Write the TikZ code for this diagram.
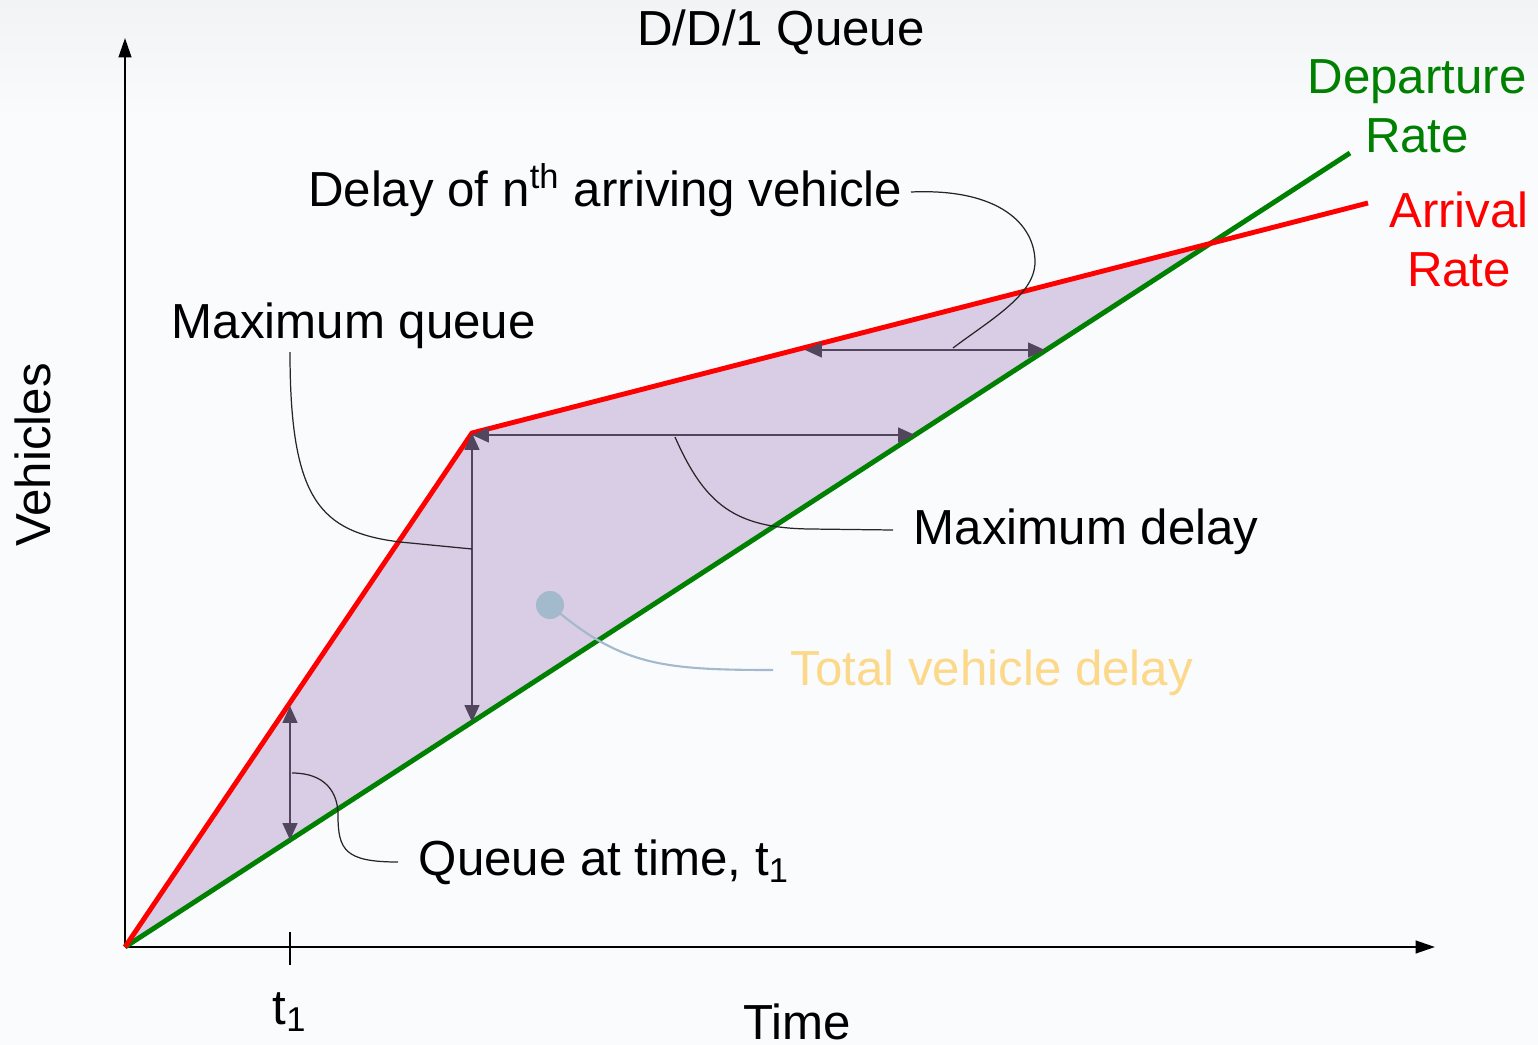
\documentclass[tikz,border=0pt]{standalone}
\usepackage{fontspec}
\setmainfont{Liberation Sans}
\usetikzlibrary{arrows.meta}
\definecolor{bgc}{HTML}{FAFBFD}
\definecolor{bgtop}{HTML}{F2F3F5}
\definecolor{fillc}{HTML}{D9CCE5}
\definecolor{arrc}{HTML}{52465F}
\definecolor{redc}{HTML}{FF0000}
\definecolor{greenc}{HTML}{008000}
\definecolor{yellowc}{HTML}{FCD98A}
\definecolor{bluec}{HTML}{A3B9CC}
\tikzset{
  lbl/.style={font=\fontsize{14}{16.8}\selectfont, inner sep=0pt},
  axisline/.style={line width=0.6pt, black, -{Triangle[length=5.5pt,width=3.6pt]}},
  ratered/.style={line width=1.4pt, redc, line join=round},
  rategreen/.style={line width=1.4pt, greenc},
  dimarrow/.style={line width=0.55pt, arrc, {Triangle[length=4.8pt,width=4.2pt]}-{Triangle[length=4.8pt,width=4.2pt]}},
  leader/.style={line width=0.35pt, black!85},
}
\begin{document}
\begin{tikzpicture}[x=0.01cm,y=-0.01cm]
\useasboundingbox (0,0) rectangle (1538,1045);
\fill[bgc] (0,0) rectangle (1538,1045);
\shade[top color=bgtop, bottom color=bgc] (0,0) rectangle (1538,120);

% key points
\coordinate (O) at (125,947);
\coordinate (K) at (472,433);
\coordinate (X) at (1210,244);
\coordinate (Rend) at (1368,203);
\coordinate (Gend) at (1350,153);
\coordinate (Ytop) at (125,38);
\coordinate (Xend) at (1435,947);

% fill
\fill[fillc] (O) -- (K) -- (X) -- cycle;

% axes
\draw[axisline] (O) -- (Ytop);
\draw[axisline] (O) -- (Xend);
\coordinate (T1a) at (290,932);
\coordinate (T1b) at (290,965);
\draw[line width=0.6pt] (T1a) -- (T1b);

% rates
\draw[rategreen] (O) -- (Gend);
\draw[ratered] (O) -- (K) -- (Rend);

% dimension arrows
\coordinate (Kb) at (472,722);
\coordinate (Kr) at (915,435);
\coordinate (Ktop) at (472,435);
\coordinate (Na) at (805,350);
\coordinate (Nb) at (1045,350);
\coordinate (Qa) at (290,706);
\coordinate (Qb) at (290,840);
\draw[dimarrow] (K) -- (Kb);
\draw[dimarrow] (Ktop) -- (Kr);
\draw[dimarrow] (Na) -- (Nb);
\draw[dimarrow] (Qa) -- (Qb);

% labels
\node[lbl] (title) at (781,32) {D/D/1 Queue};
\node[lbl, text=greenc, align=center] (dep) at (1417,106) {Departure\\Rate};
\node[lbl, text=redc, align=center] (arr) at (1459,239) {Arrival\\Rate};
\node[lbl, anchor=east] (delayn) at (903,190) {Delay of n\textsuperscript{th} arriving vehicle};
\node[lbl, anchor=west] (maxq) at (171,326) {Maximum queue};
\node[lbl, anchor=west] (maxd) at (913,532) {Maximum delay};
\node[lbl, anchor=west, text=yellowc] (total) at (790,673) {Total vehicle delay};
\node[lbl, anchor=west] (queuet) at (418,862) {Queue at time, t\textsubscript{1}};
\node[lbl] (t1) at (290,1012) {t\textsubscript{1}};
\node[lbl] (time) at (797,1022) {Time};
\node[lbl, rotate=90] (veh) at (33,455) {Vehicles};

% leaders
\coordinate (MQs) at (290,352);
\coordinate (MQe) at (472,549);
\draw[leader] (MQs) .. controls (290,500) and (320,532) .. (400,542) -- (MQe);
\coordinate (MDs) at (675,437);
\coordinate (MDe) at (893,530);
\draw[leader] (MDs) .. controls (705,505) and (735,528) .. (810,529) -- (MDe);
\coordinate (DNs) at (911,192);
\coordinate (DNm) at (1035,262);
\coordinate (DNe) at (953,348);
\draw[leader] (DNs) .. controls (1000,188) and (1035,225) .. (DNm) .. controls (1035,295) and (990,320) .. (DNe);
\coordinate (QTs) at (292,773);
\coordinate (QTm) at (338,815);
\coordinate (QTe) at (398,862);
\draw[leader] (QTs) .. controls (325,773) and (338,792) .. (QTm) .. controls (338,850) and (345,862) .. (QTe);
\coordinate (TD) at (550,605);
\coordinate (TDe) at (773,670);
\fill[bluec] (TD) circle (14);
\draw[bluec, line width=0.6pt] (TD) .. controls (620,665) and (660,670) .. (TDe);
\end{tikzpicture}
\end{document}
